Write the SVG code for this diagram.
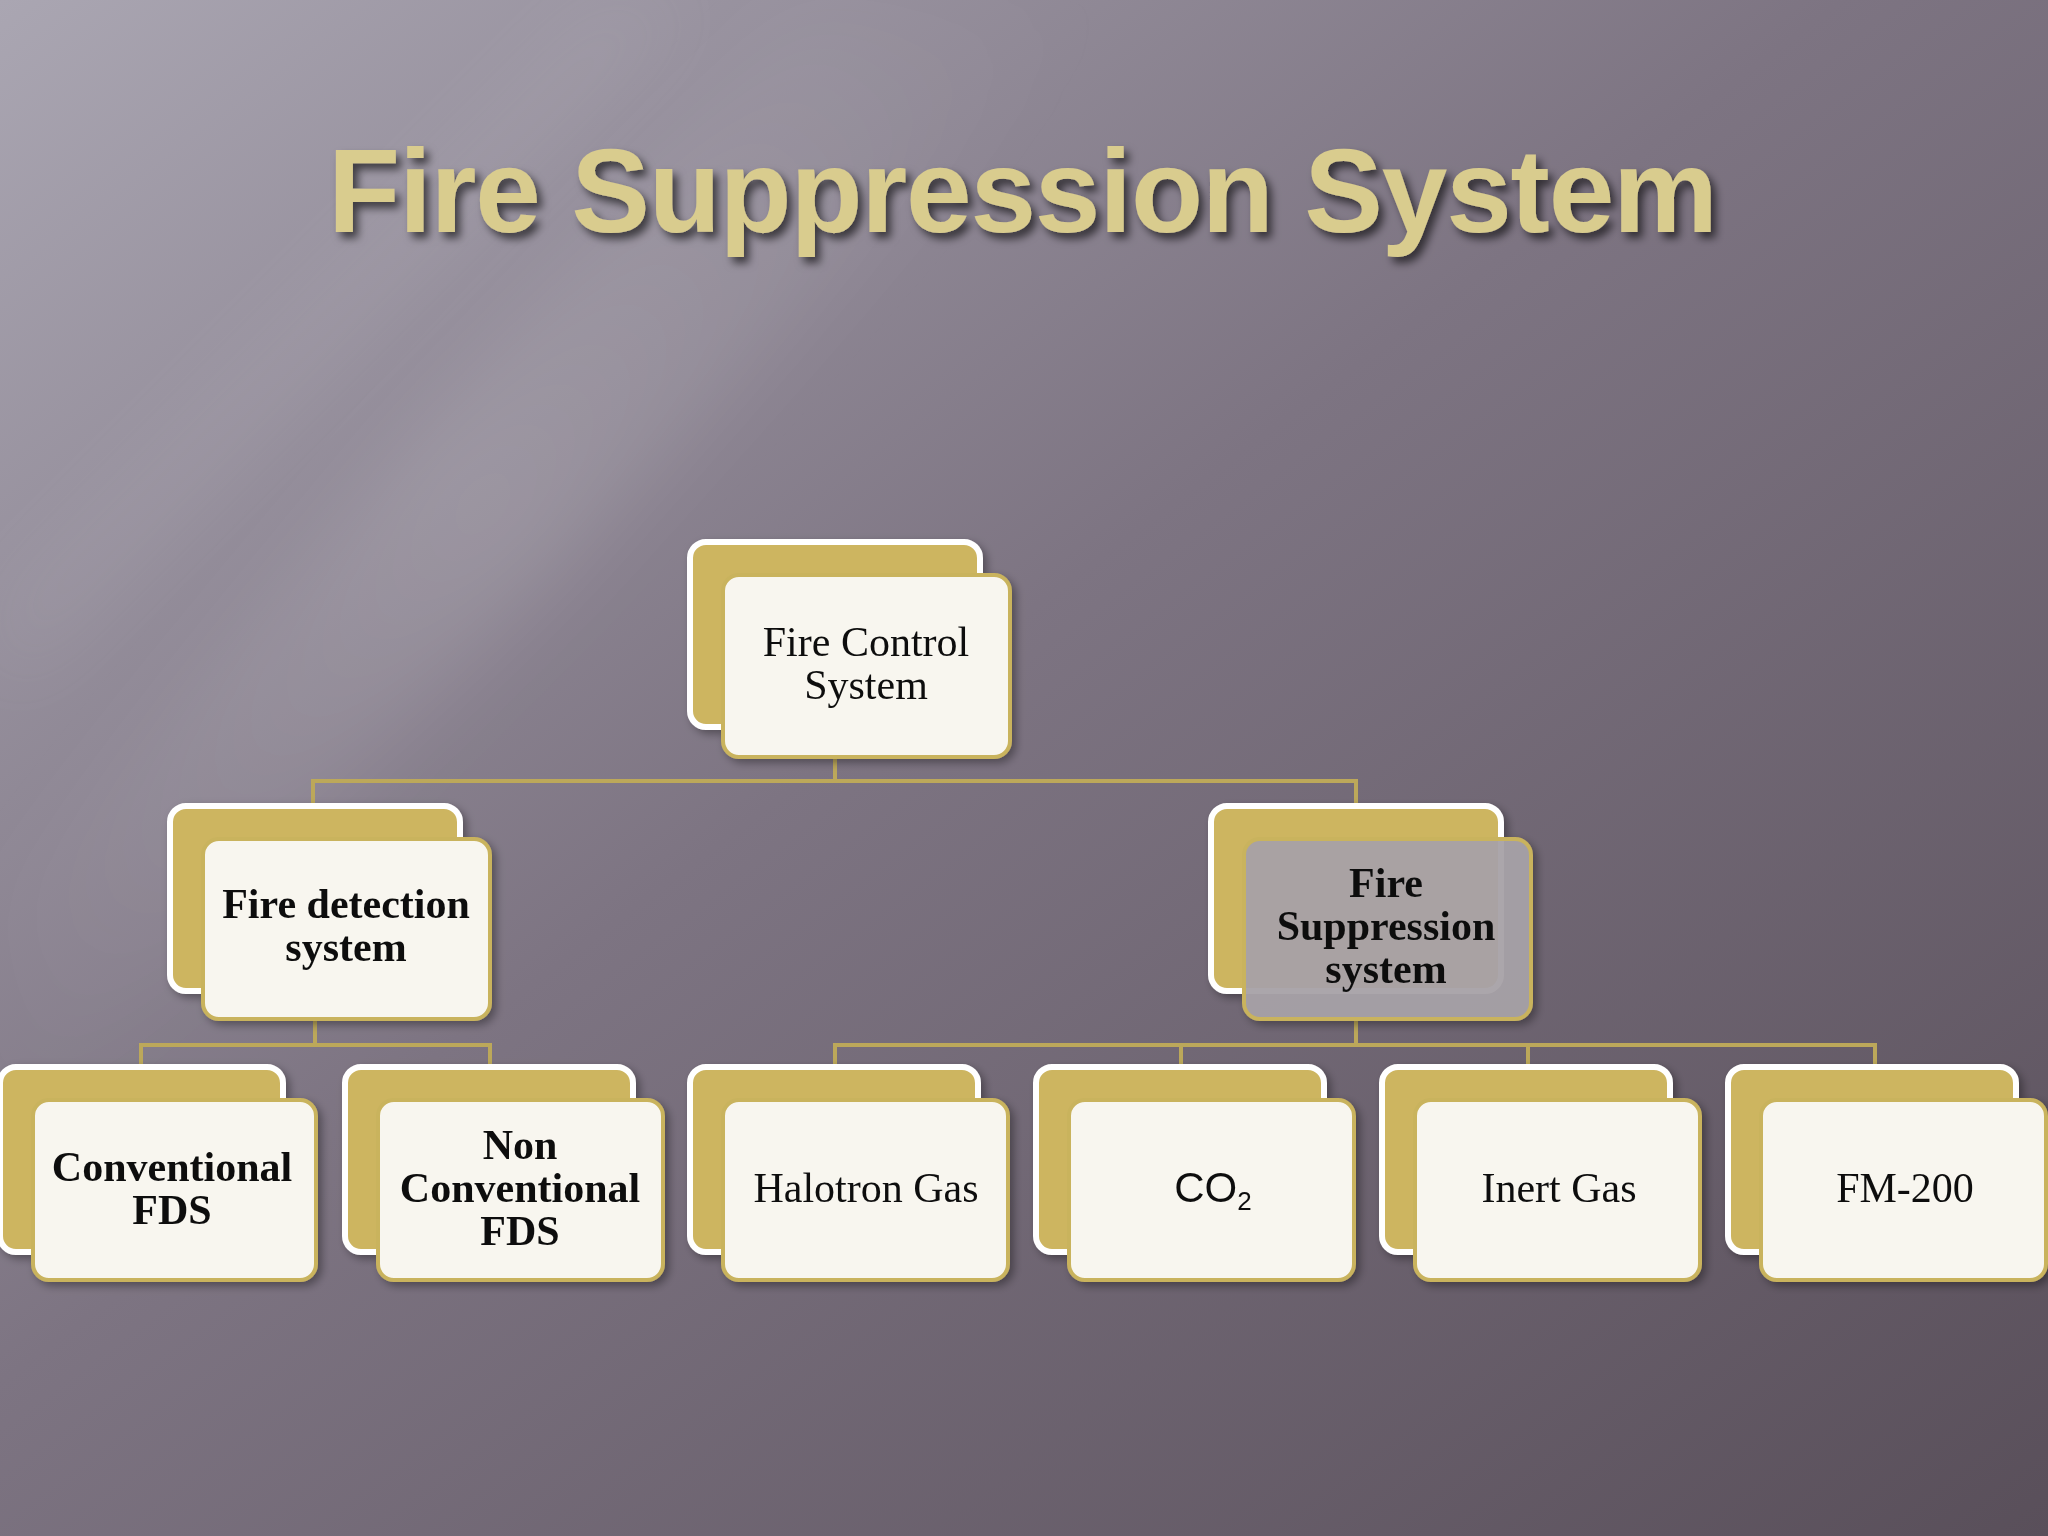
<svg xmlns="http://www.w3.org/2000/svg" width="2048" height="1536" viewBox="0 0 2048 1536">
<defs>
<linearGradient id="bg" x1="0" y1="0" x2="1" y2="1">
<stop offset="0" stop-color="#aaa6b2"/><stop offset="0.45" stop-color="#7d7482"/><stop offset="1" stop-color="#594f5a"/>
</linearGradient>
<linearGradient id="streak" x1="0" y1="1" x2="1" y2="0">
<stop offset="0" stop-color="#fff" stop-opacity="0"/><stop offset="0.5" stop-color="#fff" stop-opacity="0.12"/><stop offset="1" stop-color="#fff" stop-opacity="0"/>
</linearGradient>
<filter id="blur"><feGaussianBlur stdDeviation="40"/></filter>
<filter id="sh" x="-10%" y="-10%" width="130%" height="140%"><feDropShadow dx="5" dy="6" stdDeviation="4" flood-color="#000" flood-opacity="0.6"/></filter>
<filter id="cs" x="-10%" y="-10%" width="130%" height="130%"><feDropShadow dx="4" dy="4" stdDeviation="4" flood-color="#000" flood-opacity="0.35"/></filter>
<style>
.back{fill:#cdb560;stroke:#fff;stroke-width:6}
.front{fill:#f8f6ef;stroke:#c9b35d;stroke-width:4}
.fs{fill:#a7a1a6;fill-opacity:0.95}
.t{font-family:"Liberation Serif","DejaVu Serif",serif;font-size:42px;fill:#111;text-anchor:middle}
.b{font-weight:bold}
.c{fill:none;stroke:#bca85a;stroke-width:4}
</style>
</defs>
<rect width="2048" height="1536" fill="url(#bg)"/>
<polygon points="0,900 0,1150 1100,0 800,0" fill="url(#streak)" filter="url(#blur)"/>
<polygon points="0,600 0,700 700,0 600,0" fill="#fff" opacity="0.06" filter="url(#blur)"/>
<text x="1023" y="232" font-family="Liberation Sans, Arial, sans-serif" font-size="118" font-weight="bold" fill="#d9cc8e" text-anchor="middle" textLength="1390" filter="url(#sh)">Fire Suppression System</text>
<g id="connectors" class="c">
<path d="M835,757 V781 M313,806 V781 H1356 V806"/>
<path d="M315,1019 V1045 M141,1067 V1045 H490 V1067"/>
<path d="M1356,1019 V1045 M835,1067 V1045 H1875 V1067 M1181,1045 V1067 M1528,1045 V1067"/>
</g>
<g id="root" filter="url(#cs)"><rect class="back" x="690" y="542" width="290" height="185" rx="16"/><rect class="front" x="723" y="575" width="287" height="182" rx="16"/>
<text class="t"><tspan x="866" y="656">Fire Control</tspan><tspan x="866" y="699">System</tspan></text></g>
<g id="detection" filter="url(#cs)"><rect class="back" x="170" y="806" width="290" height="185" rx="16"/><rect class="front" x="203" y="839" width="287" height="180" rx="16"/>
<text class="t b"><tspan x="346" y="918">Fire detection</tspan><tspan x="346" y="961">system</tspan></text></g>
<g id="suppression" filter="url(#cs)"><rect class="back" x="1211" y="806" width="290" height="185" rx="16"/><rect class="front fs" x="1244" y="839" width="287" height="180" rx="16"/>
<text class="t b"><tspan x="1386" y="897">Fire</tspan><tspan x="1386" y="940">Suppression</tspan><tspan x="1386" y="983">system</tspan></text></g>
<g id="conv" filter="url(#cs)"><rect class="back" x="0" y="1067" width="283" height="185" rx="16"/><rect class="front" x="33" y="1100" width="283" height="180" rx="16"/>
<text class="t b"><tspan x="172" y="1181">Conventional</tspan><tspan x="172" y="1224">FDS</tspan></text></g>
<g id="nonconv" filter="url(#cs)"><rect class="back" x="345" y="1067" width="288" height="185" rx="16"/><rect class="front" x="378" y="1100" width="285" height="180" rx="16"/>
<text class="t b"><tspan x="520" y="1159">Non</tspan><tspan x="520" y="1202">Conventional</tspan><tspan x="520" y="1245">FDS</tspan></text></g>
<g id="halotron" filter="url(#cs)"><rect class="back" x="690" y="1067" width="288" height="185" rx="16"/><rect class="front" x="723" y="1100" width="285" height="180" rx="16"/>
<text class="t" x="866" y="1202">Halotron Gas</text></g>
<g id="co2" filter="url(#cs)"><rect class="back" x="1036" y="1067" width="288" height="185" rx="16"/><rect class="front" x="1069" y="1100" width="285" height="180" rx="16"/>
<text class="t" x="1213" y="1202" style="font-family:'Liberation Sans',sans-serif">CO<tspan font-size="26" dy="8">2</tspan></text></g>
<g id="inert" filter="url(#cs)"><rect class="back" x="1382" y="1067" width="288" height="185" rx="16"/><rect class="front" x="1415" y="1100" width="285" height="180" rx="16"/>
<text class="t" x="1559" y="1202">Inert Gas</text></g>
<g id="fm200" filter="url(#cs)"><rect class="back" x="1728" y="1067" width="288" height="185" rx="16"/><rect class="front" x="1761" y="1100" width="285" height="180" rx="16"/>
<text class="t" x="1905" y="1202">FM-200</text></g>
</svg>
